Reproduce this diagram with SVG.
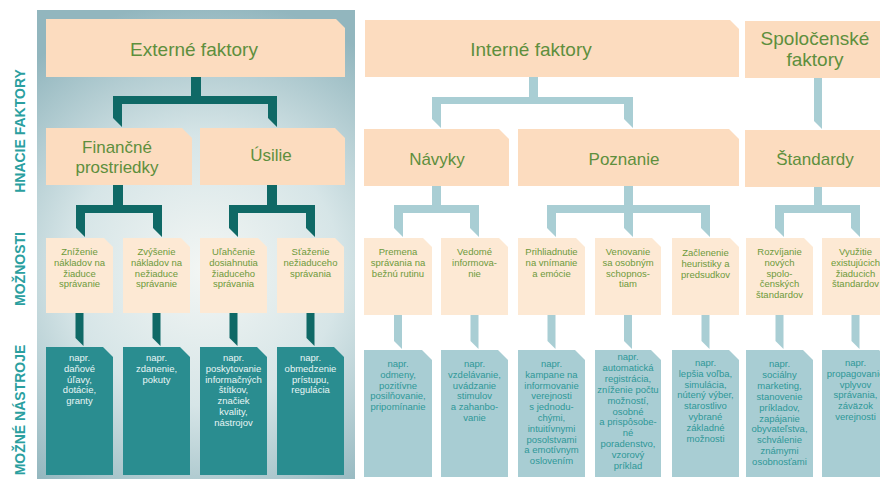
<svg xmlns="http://www.w3.org/2000/svg" width="880" height="479" viewBox="0 0 880 479">
<defs>
<radialGradient id="panelGrad" gradientUnits="userSpaceOnUse" cx="205" cy="270" r="270">
<stop offset="0" stop-color="#f3f6f4"/>
<stop offset="0.5" stop-color="#d6e5e7"/>
<stop offset="1" stop-color="#92b6be"/>
</radialGradient>
<style>
text{font-family:"Liberation Sans",Arial,sans-serif;text-anchor:middle}
.lbl{font-size:14px;font-weight:bold;fill:#2b9f9f}
.peach{fill:#fcdcbf}
.peach3{fill:#fde9d4}
.teal{fill:#2a8d90}
.lblue{fill:#a8cdd3}
.dk{fill:#0f6966}
.lc{fill:#a9ced4}
.t1{font-size:19px;fill:#5e8f3d}
.t2{font-size:17px;fill:#5e8f3d}
.t3{font-size:9.5px;fill:#6d9a3b}
.t4w{font-size:9.5px;fill:#e8f5f5}
.t4b{font-size:9.5px;fill:#2f9898}
</style>
</defs>
<rect x="0" y="0" width="880" height="479" fill="#ffffff"/>
<rect id="panel" x="37" y="10" width="318" height="469" fill="url(#panelGrad)"/>

<g id="labels">
<text class="lbl" transform="translate(25,131) rotate(-90)">HNACIE FAKTORY</text>
<text class="lbl" transform="translate(25,269) rotate(-90)">MOŽNOSTI</text>
<text class="lbl" transform="translate(25,410) rotate(-90)">MOŽNÉ NÁSTROJE</text>
</g>

<g id="connectors">
<path class="dk" d="M191,77 H201 V96 H277 V127 L268,118 V104 H122 V127 L113,118 V96 H191 Z"/>
<path class="dk" d="M113,185 H123 V205 H162 V237 L153,228 V213 H85 V237 L76,228 V205 H113 Z"/>
<path class="dk" d="M267,185 H277 V205 H315 V237 L306,228 V213 H238 V237 L229,228 V205 H267 Z"/>
<path class="dk" d="M75.5,313 H83.5 V346 L75.5,338 Z"/>
<path class="dk" d="M152.5,313 H160.5 V346 L152.5,338 Z"/>
<path class="dk" d="M229.5,313 H237.5 V346 L229.5,338 Z"/>
<path class="dk" d="M306.5,313 H314.5 V346 L306.5,338 Z"/>
<path class="lc" d="M529,77 H538 V97 H633 V128 L624,119 V104 H441 V128 L432,119 V97 H529 Z"/>
<path class="lc" d="M814,78 H822 V129 L814,121 Z"/>
<path class="lc" d="M432,186 H441 V205 H479 V237 L470,228 V213 H403 V237 L394,228 V205 H432 Z"/>
<path class="lc" d="M624,186 H633 V205 H710 V237 L701,228 V213 H633 V237 L624,228 V213 H556 V237 L547,228 V205 H624 Z"/>
<path class="lc" d="M814,187 H822 V205 H860 V237 L851,228 V213 H784 V237 L775,228 V205 H814 Z"/>
<path class="lc" d="M394,315 H402 V349 L394,341 Z"/>
<path class="lc" d="M470.5,315 H478.5 V349 L470.5,341 Z"/>
<path class="lc" d="M547.5,315 H555.5 V349 L547.5,341 Z"/>
<path class="lc" d="M624,315 H632 V349 L624,341 Z"/>
<path class="lc" d="M701.5,315 H709.5 V349 L701.5,341 Z"/>
<path class="lc" d="M775.5,315 H783.5 V349 L775.5,341 Z"/>
<path class="lc" d="M851.5,315 H859.5 V349 L851.5,341 Z"/>
</g>

<!-- Row 1 -->
<g id="n-externe">
<path class="peach" d="M46,19 H336 L345,28 V77 H46 Z"/>
<text class="t1" x="194" y="56">Externé faktory</text>
</g>
<g id="n-interne">
<path class="peach" d="M365,20 H730 L739,29 V77 H365 Z"/>
<text class="t1" x="531" y="56">Interné faktory</text>
</g>
<g id="n-spolocenske">
<path class="peach" d="M745,21 H882 L891,30 V78 H745 Z"/>
<text class="t1" x="815" y="45">Spoločenské</text>
<text class="t1" x="815" y="66">faktory</text>
</g>

<!-- Row 2 -->
<g id="n-financne">
<path class="peach" d="M46,128 H182 L192,138 V185 H46 Z"/>
<text class="t2" x="117" y="153">Finančné</text>
<text class="t2" x="117" y="173">prostriedky</text>
</g>
<g id="n-usilie">
<path class="peach" d="M200,128 H335 L345,138 V185 H200 Z"/>
<text class="t2" x="271" y="161">Úsilie</text>
</g>
<g id="n-navyky">
<path class="peach" d="M364,129 H499 L509,139 V186 H364 Z"/>
<text class="t2" x="437" y="165">Návyky</text>
</g>
<g id="n-poznanie">
<path class="peach" d="M518,129 H729 L739,139 V186 H518 Z"/>
<text class="t2" x="624" y="165">Poznanie</text>
</g>
<g id="n-standardy">
<path class="peach" d="M745,130 H881 L891,140 V187 H745 Z"/>
<text class="t2" x="815" y="165">Štandardy</text>
</g>

<!-- Row 3 left -->
<g id="n-znizenie">
<path class="peach3" d="M46,238 H104 L113,247 V313 H46 Z"/>
<text class="t3" y="255"><tspan x="79.5">Zníženie</tspan><tspan x="79.5" dy="10.8">nákladov na</tspan><tspan x="79.5" dy="10.8">žiaduce</tspan><tspan x="79.5" dy="10.8">správanie</tspan></text>
</g>
<g id="n-zvysenie">
<path class="peach3" d="M123,238 H181 L190,247 V313 H123 Z"/>
<text class="t3" y="255"><tspan x="156.5">Zvýšenie</tspan><tspan x="156.5" dy="10.8">nákladov na</tspan><tspan x="156.5" dy="10.8">nežiaduce</tspan><tspan x="156.5" dy="10.8">správanie</tspan></text>
</g>
<g id="n-ulahcenie">
<path class="peach3" d="M200,238 H258 L267,247 V313 H200 Z"/>
<text class="t3" y="255"><tspan x="233.5">Uľahčenie</tspan><tspan x="233.5" dy="10.8">dosiahnutia</tspan><tspan x="233.5" dy="10.8">žiaduceho</tspan><tspan x="233.5" dy="10.8">správania</tspan></text>
</g>
<g id="n-staz">
<path class="peach3" d="M277,238 H335 L344,247 V313 H277 Z"/>
<text class="t3" y="255"><tspan x="310.5">Sťaženie</tspan><tspan x="310.5" dy="10.8">nežiaduceho</tspan><tspan x="310.5" dy="10.8">správania</tspan></text>
</g>

<!-- Row 3 right -->
<g id="n-premena">
<path class="peach3" d="M364,238 H423 L432,247 V315 H364 Z"/>
<text class="t3" y="255"><tspan x="398">Premena</tspan><tspan x="398" dy="10.8">správania na</tspan><tspan x="398" dy="10.8">bežnú rutinu</tspan></text>
</g>
<g id="n-vedome">
<path class="peach3" d="M441,238 H499 L508,247 V315 H441 Z"/>
<text class="t3" y="255"><tspan x="474.5">Vedomé</tspan><tspan x="474.5" dy="10.8">informova-</tspan><tspan x="474.5" dy="10.8">nie</tspan></text>
</g>
<g id="n-prihliadnutie">
<path class="peach3" d="M518,238 H576 L585,247 V315 H518 Z"/>
<text class="t3" y="255"><tspan x="551.5">Prihliadnutie</tspan><tspan x="551.5" dy="10.8">na vnímanie</tspan><tspan x="551.5" dy="10.8">a emócie</tspan></text>
</g>
<g id="n-venovanie">
<path class="peach3" d="M595,238 H652 L661,247 V315 H595 Z"/>
<text class="t3" y="255"><tspan x="628">Venovanie</tspan><tspan x="628" dy="10.8">sa osobným</tspan><tspan x="628" dy="10.8">schopnos-</tspan><tspan x="628" dy="10.8">tiam</tspan></text>
</g>
<g id="n-zaclenenie">
<path class="peach3" d="M672,238 H730 L739,247 V315 H672 Z"/>
<text class="t3" y="256"><tspan x="705.5">Začlenenie</tspan><tspan x="705.5" dy="10.8">heuristiky a</tspan><tspan x="705.5" dy="10.8">predsudkov</tspan></text>
</g>
<g id="n-rozvijanie">
<path class="peach3" d="M746,238 H804 L813,247 V315 H746 Z"/>
<text class="t3" y="255"><tspan x="779.5">Rozvíjanie</tspan><tspan x="779.5" dy="10.8">nových</tspan><tspan x="779.5" dy="10.8">spolo-</tspan><tspan x="779.5" dy="10.8">čenských</tspan><tspan x="779.5" dy="10.8">štandardov</tspan></text>
</g>
<g id="n-vyuzitie">
<path class="peach3" d="M822,238 H880 L889,247 V315 H822 Z"/>
<text class="t3" y="255"><tspan x="855.5">Využitie</tspan><tspan x="855.5" dy="10.8">existujúcich</tspan><tspan x="855.5" dy="10.8">žiaducich</tspan><tspan x="855.5" dy="10.8">štandardov</tspan></text>
</g>

<!-- Row 4 left -->
<g id="n-danove">
<path class="teal" d="M46,347 H103 L113,357 V475 H46 Z"/>
<text class="t4w" y="361"><tspan x="79.5">napr.</tspan><tspan x="79.5" dy="10.8">daňové</tspan><tspan x="79.5" dy="10.8">úľavy,</tspan><tspan x="79.5" dy="10.8">dotácie,</tspan><tspan x="79.5" dy="10.8">granty</tspan></text>
</g>
<g id="n-zdanenie">
<path class="teal" d="M123,347 H180 L190,357 V475 H123 Z"/>
<text class="t4w" y="361"><tspan x="156.5">napr.</tspan><tspan x="156.5" dy="10.8">zdanenie,</tspan><tspan x="156.5" dy="10.8">pokuty</tspan></text>
</g>
<g id="n-poskytovanie">
<path class="teal" d="M200,347 H257 L267,357 V475 H200 Z"/>
<text class="t4w" y="361"><tspan x="233.5">napr.</tspan><tspan x="233.5" dy="10.8">poskytovanie</tspan><tspan x="233.5" dy="10.8">informačných</tspan><tspan x="233.5" dy="10.8">štítkov,</tspan><tspan x="233.5" dy="10.8">značiek</tspan><tspan x="233.5" dy="10.8">kvality,</tspan><tspan x="233.5" dy="10.8">nástrojov</tspan></text>
</g>
<g id="n-obmedzenie">
<path class="teal" d="M277,347 H334 L344,357 V475 H277 Z"/>
<text class="t4w" y="361"><tspan x="310.5">napr.</tspan><tspan x="310.5" dy="10.8">obmedzenie</tspan><tspan x="310.5" dy="10.8">prístupu,</tspan><tspan x="310.5" dy="10.8">regulácia</tspan></text>
</g>

<!-- Row 4 right -->
<g id="n-odmeny">
<path class="lblue" d="M364,350 H422 L432,360 V477 H364 Z"/>
<text class="t4b" y="367"><tspan x="398">napr.</tspan><tspan x="398" dy="10.8">odmeny,</tspan><tspan x="398" dy="10.8">pozitívne</tspan><tspan x="398" dy="10.8">posilňovanie,</tspan><tspan x="398" dy="10.8">pripomínanie</tspan></text>
</g>
<g id="n-vzdelavanie">
<path class="lblue" d="M441,350 H498 L508,360 V477 H441 Z"/>
<text class="t4b" y="367"><tspan x="474.5">napr.</tspan><tspan x="474.5" dy="10.8">vzdelávanie,</tspan><tspan x="474.5" dy="10.8">uvádzanie</tspan><tspan x="474.5" dy="10.8">stimulov</tspan><tspan x="474.5" dy="10.8">a zahanbo-</tspan><tspan x="474.5" dy="10.8">vanie</tspan></text>
</g>
<g id="n-kampane">
<path class="lblue" d="M518,350 H575 L585,360 V477 H518 Z"/>
<text class="t4b" y="367"><tspan x="551.5">napr.</tspan><tspan x="551.5" dy="10.8">kampane na</tspan><tspan x="551.5" dy="10.8">informovanie</tspan><tspan x="551.5" dy="10.8">verejnosti</tspan><tspan x="551.5" dy="10.8">s jednodu-</tspan><tspan x="551.5" dy="10.8">chými,</tspan><tspan x="551.5" dy="10.8">intuitívnymi</tspan><tspan x="551.5" dy="10.8">posolstvami</tspan><tspan x="551.5" dy="10.8">a emotívnym</tspan><tspan x="551.5" dy="10.8">oslovením</tspan></text>
</g>
<g id="n-automaticka">
<path class="lblue" d="M595,350 H651 L661,360 V477 H595 Z"/>
<text class="t4b" y="360"><tspan x="628">napr.</tspan><tspan x="628" dy="10.9">automatická</tspan><tspan x="628" dy="10.9">registrácia,</tspan><tspan x="628" dy="10.9">zníženie počtu</tspan><tspan x="628" dy="10.9">možností,</tspan><tspan x="628" dy="10.9">osobné</tspan><tspan x="628" dy="10.9">a prispôsobe-</tspan><tspan x="628" dy="10.9">né</tspan><tspan x="628" dy="10.9">poradenstvo,</tspan><tspan x="628" dy="10.9">vzorový</tspan><tspan x="628" dy="10.9">príklad</tspan></text>
</g>
<g id="n-lepsia">
<path class="lblue" d="M672,350 H729 L739,360 V477 H672 Z"/>
<text class="t4b" y="366"><tspan x="705.5">napr.</tspan><tspan x="705.5" dy="10.8">lepšia voľba,</tspan><tspan x="705.5" dy="10.8">simulácia,</tspan><tspan x="705.5" dy="10.8">nútený výber,</tspan><tspan x="705.5" dy="10.8">starostlivo</tspan><tspan x="705.5" dy="10.8">vybrané</tspan><tspan x="705.5" dy="10.8">základné</tspan><tspan x="705.5" dy="10.8">možnosti</tspan></text>
</g>
<g id="n-socialny">
<path class="lblue" d="M746,350 H803 L813,360 V477 H746 Z"/>
<text class="t4b" y="367"><tspan x="779.5">napr.</tspan><tspan x="779.5" dy="10.9">sociálny</tspan><tspan x="779.5" dy="10.9">marketing,</tspan><tspan x="779.5" dy="10.9">stanovenie</tspan><tspan x="779.5" dy="10.9">príkladov,</tspan><tspan x="779.5" dy="10.9">zapájanie</tspan><tspan x="779.5" dy="10.9">obyvateľstva,</tspan><tspan x="779.5" dy="10.9">schválenie</tspan><tspan x="779.5" dy="10.9">známymi</tspan><tspan x="779.5" dy="10.9">osobnosťami</tspan></text>
</g>
<g id="n-propagovanie">
<path class="lblue" d="M822,350 H879 L889,360 V477 H822 Z"/>
<text class="t4b" y="366"><tspan x="855.5">napr.</tspan><tspan x="855.5" dy="10.8">propagovanie</tspan><tspan x="855.5" dy="10.8">vplyvov</tspan><tspan x="855.5" dy="10.8">správania,</tspan><tspan x="855.5" dy="10.8">záväzok</tspan><tspan x="855.5" dy="10.8">verejnosti</tspan></text>
</g>
</svg>
